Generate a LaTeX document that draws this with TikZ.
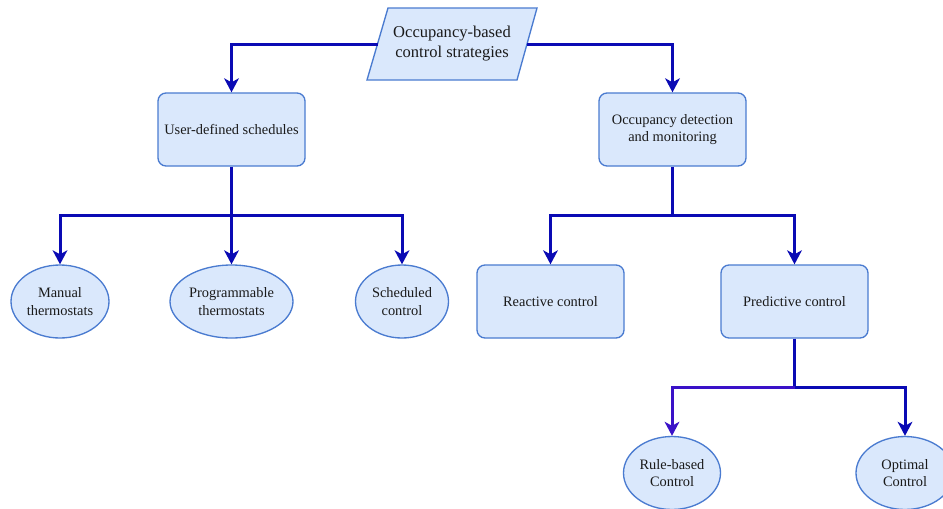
\documentclass[tikz,border=0pt]{standalone}
\usepackage{fontspec}
\setmainfont{Liberation Serif}
\usetikzlibrary{shapes.geometric,arrows.meta}
\definecolor{boxfill}{HTML}{DAE8FC}
\definecolor{boxline}{HTML}{4A7BD0}
\definecolor{wire}{HTML}{0A0AB4}
\definecolor{wirealt}{HTML}{3A12C8}
\definecolor{ink}{HTML}{1A1A1A}
\begin{document}
\begin{tikzpicture}[x=0.75pt,y=-0.75pt,
  every node/.style={text=ink, font=\fontsize{10.8}{13}\selectfont, align=center},
  card/.style={draw=boxline, fill=boxfill, line width=1pt, rounded corners=6pt,
    minimum width=110.25pt, minimum height=54.75pt, inner sep=0pt},
  oval/.style={ellipse, draw=boxline, fill=boxfill, line width=1pt,
    minimum height=54.75pt, inner sep=0pt},
  wireline/.style={draw=wire, line width=2.25pt},
  conn/.style={wireline, -{Stealth[length=10.5pt, width=11pt, inset=3pt]}},
]
% canvas
\fill[white] (0,0) rectangle (943,508);
\clip (0,0) rectangle (943,508);

% root parallelogram
\filldraw[draw=boxline, fill=boxfill, line width=1pt]
  (388,8) -- (537,8) -- (517,80) -- (367,80) -- cycle;
\node[font=\fontsize{12.4}{15}\selectfont] (root) at (452,44)
  {Occupancy-based\\control strategies};
\coordinate (rootW) at (377.5,44);
\coordinate (rootE) at (527,44);

% second level
\node[card] (uds) at (231.5,129.5) {User-defined schedules};
\node[card] (odm) at (672.5,129.5) {Occupancy detection\\and monitoring};

% third level
\node[oval, minimum width=73.5pt]  (man)  at (60,301.5)    {Manual\\thermostats};
\node[oval, minimum width=92.25pt] (prog) at (231.5,301.5) {Programmable\\thermostats};
\node[oval, minimum width=69.75pt] (sch)  at (402,301.5)   {Scheduled\\control};
\node[card] (rea) at (550.5,301.5) {Reactive control};
\node[card] (pre) at (794.5,301.5) {Predictive control};

% fourth level
\node[oval, minimum width=72.75pt] (rule) at (672,473) {Rule-based\\Control};
\node[oval, minimum width=73.5pt]  (opt)  at (905,473) {Optimal\\Control};

% connectors from the root
\draw[conn] (rootW) -| (uds.north);
\draw[conn] (rootE) -| (odm.north);

% schedules branch
\coordinate (busA) at (231.5,215);
\draw[wireline] (uds.south) -- (busA);
\draw[conn] (busA) -| (man.north);
\draw[conn] (busA) -- (prog.north);
\draw[conn] (busA) -| (sch.north);

% detection branch
\coordinate (busB) at (672.5,215);
\draw[wireline] (odm.south) -- (busB);
\draw[conn] (busB) -| (rea.north);
\draw[conn] (busB) -| (pre.north);

% predictive branch
\coordinate (busC) at (794.5,387);
\draw[wireline] (pre.south) -- (busC);
\draw[conn, draw=wirealt] (busC) -| (rule.north);
\draw[conn] (busC) -| (opt.north);
\end{tikzpicture}
\end{document}
